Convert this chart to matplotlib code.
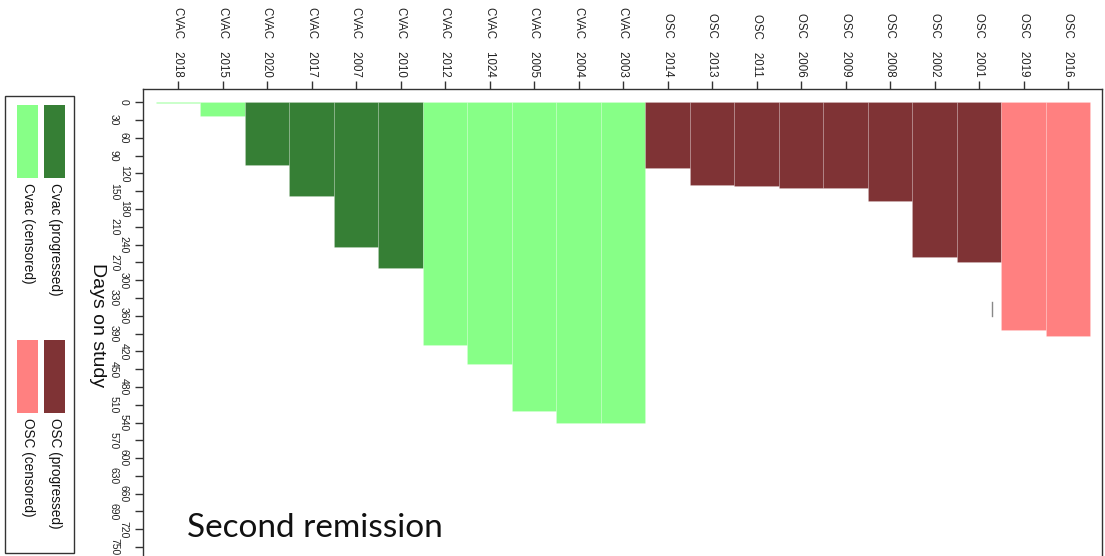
import matplotlib
matplotlib.use("Agg")
import matplotlib.pyplot as plt
from matplotlib.patches import Rectangle
import numpy as np

# ---- data -------------------------------------------------------------
arms = ["CVAC"] * 11 + ["OSC"] * 10
patient_ids = ["2018", "2015", "2020", "2017", "2007", "2010", "2012", "1024",
               "2005", "2004", "2003",
               "2014", "2013", "2011", "2006", "2009", "2008", "2002", "2001",
               "2019", "2016"]
days_on_study = [1, 23, 105, 158, 244, 280, 409, 442, 520, 540, 540,
                 111, 139, 141, 144, 144, 166, 261, 269, 384, 394]
outcomes = ["censored", "censored", "progressed", "progressed", "progressed",
            "progressed", "censored", "censored", "censored", "censored",
            "censored",
            "progressed", "progressed", "progressed", "progressed",
            "progressed", "progressed", "progressed", "progressed",
            "censored", "censored"]
y_ticks = list(range(0, 751, 30))

# small grey segment drawn inside the plot region
seg_x = 18.29
seg_days = [337, 361]

legend_labels = ["Cvac (progressed)", "Cvac (censored)",
                 "OSC (progressed)", "OSC (censored)"]

colors = {
    ("CVAC", "progressed"): "#367f35",
    ("CVAC", "censored"): "#87ff87",
    ("OSC", "progressed"): "#7f3335",
    ("OSC", "censored"): "#ff8080",
}

# ---- figure -----------------------------------------------------------
W, H = 1105, 556
plt.rcParams["font.family"] = ["Liberation Sans", "DejaVu Sans"]
fig = plt.figure(figsize=(W / 100, H / 100), dpi=100)


def fx(px):
    return px / W


def fy(py):
    return 1 - py / H


ax_left, ax_right, ax_top = 143.3, 1102.3, 89.3
ax = fig.add_axes([fx(ax_left), 0, (ax_right - ax_left) / W, (H - ax_top) / H])

x = np.arange(len(patient_ids))
bar_colors = [colors[(a, o)] for a, o in zip(arms, outcomes)]
ax.bar(x, days_on_study, width=1.0, bottom=0, color=bar_colors,
       edgecolor=(1, 1, 1, 0.18), linewidth=0.6, align="center")
ax.plot([seg_x, seg_x], seg_days, color="#888888", lw=1.0)

ax.set_xlim(-0.785, 20.77)
ax.set_ylim(765.1, -21.9)

# top category axis
ax.xaxis.tick_top()
ax.set_xticks(x)
ax.set_xticklabels([f"{a}    {p}" for a, p in zip(arms, patient_ids)],
                   rotation=-90, fontsize=8.3, color="#222222")
ax.tick_params(axis="x", which="major", length=6, width=1, pad=3,
               color="#333333")

# staggered day labels: even multiples near the axis, odd ones further out
major = [v for i, v in enumerate(y_ticks) if i % 2 == 0]
minor = [v for i, v in enumerate(y_ticks) if i % 2 == 1]
ax.set_yticks(major)
ax.set_yticklabels([str(v) for v in major], rotation=-90, fontsize=7.5,
                   color="#222222", va="center")
ax.set_yticks(minor, minor=True)
ax.set_yticklabels([str(v) for v in minor], minor=True, rotation=-90,
                   fontsize=7.5, color="#222222", va="center")
ax.tick_params(axis="y", which="major", length=5.5, width=1, pad=5,
               color="#333333")
ax.tick_params(axis="y", which="minor", length=5.5, width=1, pad=12,
               color="#333333")

ax.set_ylabel("Days on study", rotation=-90, fontsize=14, va="center",
              ha="center", color="#111111")
ax.yaxis.set_label_coords((97 - ax_left) / (ax_right - ax_left),
                          1 - (325 - ax_top) / (H - ax_top))

for side in ["top", "left", "right"]:
    ax.spines[side].set_color("#333333")
    ax.spines[side].set_linewidth(1.0)
ax.spines["bottom"].set_visible(False)

# ---- rotated legend -----------------------------------------------------
fig.patches.append(Rectangle((fx(5), fy(553)), (74 - 5) / W, (553 - 96) / H,
                             transform=fig.transFigure, fill=False,
                             edgecolor="#333333", linewidth=1.0))
legend_keys = [("CVAC", "progressed"), ("CVAC", "censored"),
               ("OSC", "progressed"), ("OSC", "censored")]
key_x = [44.3, 17.3, 44.3, 17.3]
key_y = [105, 105, 340, 340]
text_y = [183, 183, 418, 418]
for key, lab, kx, ky, ty in zip(legend_keys, legend_labels, key_x, key_y, text_y):
    fig.patches.append(Rectangle((fx(kx), fy(ky + 73)), 20.5 / W, 73 / H,
                                 transform=fig.transFigure,
                                 facecolor=colors[key], edgecolor="none"))
    fig.text(fx(kx + 10.3), fy(ty), lab, rotation=-90, ha="center", va="top",
             fontsize=9.8, color="#111111")

fig.text(fx(187), fy(537), "Second remission", fontsize=24,
         family=["Lato", "DejaVu Sans"], va="baseline", ha="left",
         color="#111111")

fig.savefig("out.png", dpi=100)
